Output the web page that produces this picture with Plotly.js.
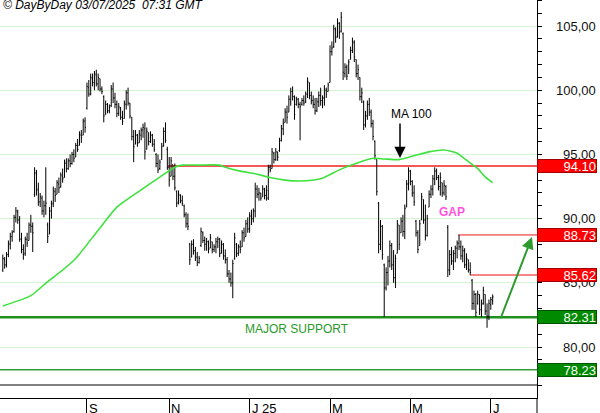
<!DOCTYPE html>
<html><head><meta charset="utf-8">
<script src="https://cdn.plot.ly/plotly-3.0.1.min.js"></script>
<style>html,body{margin:0;padding:0;background:#fff;} #chart{width:600px;height:413px;}</style>
</head><body><div id="chart"></div>
<script>
// ---------------- DATA (daily bars from 2024-07-01, trading days) ----------------
const firstDay = '2024-07-01';
const open = [
86.0,86.8,86.4,87.2,88.0,88.6,89.0,90.1,90.5,89.9,
88.4,87.6,87.3,88.4,88.3,89.5,89.4,91.9,93.5,92.3,
91.3,91.6,90.6,91.0,89.5,88.8,90.6,91.2,92.1,91.9,
92.7,92.5,93.3,93.2,94.3,93.9,94.5,94.3,95.0,94.8,
95.7,95.7,96.5,96.5,97.6,98.6,100.2,99.7,100.9,100.6,
101.2,100.5,100.9,100.1,99.5,98.1,98.9,98.4,98.8,100.1,
99.4,98.9,98.2,98.6,97.9,97.8,98.9,99.8,99.0,97.9,
96.4,95.8,96.5,95.9,96.5,96.9,97.0,95.4,96.7,96.0,
96.5,95.8,95.0,94.3,93.9,94.6,95.7,96.8,95.4,94.0,
93.3,94.2,93.3,92.1,91.3,91.8,91.4,91.0,90.3,89.6,
88.0,87.0,88.0,87.5,87.0,86.6,87.9,88.9,88.3,88.0,
88.2,87.7,88.2,87.6,87.8,88.2,88.4,87.3,88.0,87.1,
86.8,85.7,85.3,85.0,86.9,88.0,87.3,87.8,87.8,88.9,
88.6,89.6,89.2,90.2,90.0,90.6,92.3,91.9,92.0,91.7,
92.3,91.8,91.6,94.0,93.9,95.1,94.6,95.2,95.3,96.1,
97.0,97.5,98.3,98.3,99.3,99.9,99.5,98.9,99.3,98.9,
98.9,99.2,99.1,99.7,100.6,99.6,99.2,98.9,98.4,99.1,
99.6,99.2,99.4,100.0,99.9,100.6,103.0,103.4,104.7,104.2,
105.2,104.6,104.4,101.3,101.8,101.3,102.4,103.1,103.7,102.4,
101.3,101.0,99.5,99.1,97.3,98.0,98.9,98.3,97.4,96.0,
94.6,91.2,88.0,89.4,86.4,84.6,85.8,86.7,87.9,86.4,
85.4,87.3,89.5,88.9,89.8,89.0,90.9,92.7,93.7,92.9,
92.0,89.8,88.9,87.9,89.9,91.5,89.9,88.7,90.9,91.9,
92.3,93.1,93.7,93.2,92.5,92.8,92.0,92.5,89.3,86.0,
87.2,86.7,87.3,87.7,88.1,87.8,87.1,87.5,86.4,86.8,
86.0,85.2,83.4,84.1,83.4,84.1,82.9,83.4,84.1,82.8,
82.4,83.3,83.6];
const high = [
87.2,87.0,87.4,88.3,88.9,89.1,90.3,90.9,90.7,90.2,
88.9,88.0,88.6,88.9,89.7,90.3,89.7,94.0,93.8,92.8,
92.0,91.8,91.4,94.0,89.7,90.9,91.4,92.5,92.4,93.0,
93.2,93.6,93.9,94.6,94.7,94.7,95.0,95.2,95.4,95.9,
96.2,96.8,96.9,97.8,97.9,100.6,100.8,101.3,101.3,101.5,
101.6,101.3,100.9,100.3,99.6,99.2,99.0,98.9,100.4,100.6,
99.8,99.2,99.0,98.7,98.4,99.2,100.0,100.2,99.0,97.9,
96.9,96.9,96.6,96.9,97.1,97.4,97.5,97.1,96.7,96.8,
96.6,96.2,95.1,95.0,94.6,95.9,97.1,97.5,95.6,94.8,
94.8,94.2,94.3,92.2,92.2,91.9,91.8,91.1,90.5,90.4,
88.1,88.3,88.4,87.8,87.4,87.1,89.3,89.0,88.6,88.5,
88.3,88.8,88.2,88.0,88.5,88.6,88.5,88.3,88.1,87.6,
87.0,86.0,85.8,86.8,88.9,88.1,88.0,88.3,89.1,89.3,
89.9,90.1,90.5,90.7,90.8,92.8,92.6,92.4,92.0,92.6,
92.4,92.6,94.2,94.2,95.5,95.2,95.5,95.2,96.3,97.3,
97.8,98.6,98.8,99.6,100.2,100.3,99.6,99.5,99.4,99.1,
99.4,99.6,99.9,101.0,100.6,99.9,99.6,99.4,99.4,99.9,
100.2,99.6,100.4,100.2,100.6,103.5,103.8,105.1,104.9,105.6,
105.3,106.1,104.5,102.1,102.0,102.4,103.4,104.1,103.9,102.4,
102.0,101.0,100.2,99.2,98.4,99.2,99.4,98.5,97.7,96.1,
94.6,91.3,89.9,89.5,86.5,86.2,87.1,88.3,88.1,87.55,
87.2,89.9,89.5,90.1,90.3,91.1,93.0,94.0,93.8,93.0,
92.6,89.9,89.1,89.9,92.0,91.5,91.1,90.3,92.2,92.6,
93.4,94.0,93.9,93.4,93.6,92.8,93.0,92.6,89.5,87.55,
87.8,87.55,87.9,88.3,88.73,88.3,87.9,87.7,87.3,86.8,
86.6,85.3,84.4,84.2,84.4,84.1,83.7,84.7,84.1,83.4,
83.7,83.9,84.1];
const low = [
85.85,86.1,86.2,87.0,87.6,88.2,88.9,89.7,89.6,88.2,
87.3,86.8,87.1,87.8,88.3,88.9,87.4,91.7,91.8,91.0,
90.9,90.3,90.1,90.3,88.1,88.8,90.0,90.9,91.3,91.9,
92.0,92.4,92.8,93.2,93.6,93.8,94.0,94.2,94.4,94.8,
95.2,95.7,95.9,96.5,96.7,98.5,99.5,99.6,100.3,100.0,
100.3,100.0,99.9,99.7,97.5,98.1,98.2,98.2,98.7,99.0,
98.6,97.9,98.0,97.7,97.3,97.8,98.5,98.8,97.8,96.1,
94.4,95.8,95.6,95.9,96.1,96.3,94.6,95.4,95.7,95.9,
95.6,95.2,94.0,93.55,93.8,94.6,95.6,95.9,93.8,92.5,
93.3,93.0,92.2,90.9,91.1,91.2,91.0,90.1,89.3,89.1,
86.4,87.0,87.2,86.7,86.3,86.5,87.8,88.1,87.5,87.5,
87.3,87.7,87.3,87.4,87.3,87.7,87.0,87.3,86.8,86.5,
85.45,85.0,84.7,83.8,86.8,87.0,87.1,87.3,87.8,88.2,
88.6,88.9,88.9,89.5,89.7,90.1,91.6,91.4,91.4,91.7,
91.5,91.4,91.45,93.6,93.9,94.3,94.5,94.5,95.2,96.0,
96.5,97.5,97.4,98.3,98.8,99.2,97.7,98.8,98.6,96.1,
98.8,98.8,99.0,99.4,99.3,98.9,98.6,98.1,98.3,98.7,
98.8,98.6,98.8,99.4,99.9,100.6,102.7,103.3,103.7,104.1,
104.0,104.5,100.8,101.0,100.8,101.3,102.4,102.9,102.2,101.0,
100.8,99.2,99.0,96.9,97.1,97.7,98.0,97.1,96.1,94.6,
91.8,87.3,87.55,86.8,82.34,84.4,84.8,86.2,86.0,85.0,
84.6,87.3,87.55,88.9,88.6,88.4,90.9,92.2,92.6,91.7,
91.0,88.6,87.3,87.9,89.9,89.6,88.3,88.6,90.9,91.6,
91.8,92.6,93.0,92.2,91.8,91.7,91.8,91.45,85.45,85.6,
86.4,86.0,86.6,86.9,87.55,86.8,86.6,86.15,86.0,85.8,
85.62,82.9,82.9,82.34,83.3,82.5,82.34,83.3,82.5,81.5,
82.1,82.9,83.3];
const close = [
86.9,86.4,87.2,88.1,88.6,88.9,90.1,90.6,89.9,88.4,
87.6,87.2,88.4,88.1,89.5,89.4,88.9,93.6,92.2,91.3,
91.7,90.6,91.0,91.2,88.6,90.6,91.1,92.2,91.8,92.8,
92.4,93.4,93.1,94.4,93.9,94.5,94.3,95.0,94.7,95.7,
95.4,96.6,96.3,97.6,97.1,100.3,99.7,101.0,100.6,101.3,
100.5,101.0,100.1,99.9,98.0,98.9,98.4,98.7,100.1,99.4,
98.9,98.2,98.7,97.9,97.6,99.0,99.8,99.0,98.0,96.4,
95.6,96.5,95.9,96.6,96.9,97.1,95.2,96.8,96.0,96.5,
95.8,95.4,94.3,93.8,94.4,95.6,96.8,96.1,94.0,93.0,
94.5,93.3,92.4,91.2,91.9,91.4,91.2,90.3,89.6,89.4,
86.8,88.0,87.5,87.0,86.6,86.9,89.0,88.3,88.0,88.2,
87.6,88.5,87.6,87.8,88.2,88.4,87.3,88.0,87.1,86.8,
85.7,85.3,85.0,86.5,88.5,87.3,87.8,87.6,88.9,88.5,
89.6,89.2,90.2,90.0,90.6,92.3,91.9,92.0,91.6,92.3,
91.8,92.2,94.0,93.8,95.2,94.6,95.2,94.8,96.1,97.0,
97.4,98.3,97.9,99.3,99.9,99.5,98.1,99.3,98.9,98.7,
99.2,99.0,99.7,100.7,99.6,99.2,98.9,98.4,99.1,99.6,
99.2,99.4,100.1,99.7,100.4,103.0,103.3,104.8,104.1,105.3,
104.5,105.7,101.4,101.8,101.1,102.2,103.1,103.8,102.6,101.3,
101.6,99.5,99.8,97.3,98.0,98.9,98.3,97.4,96.4,94.9,
92.1,88.0,89.4,87.2,84.6,85.8,86.7,87.9,86.4,85.4,
86.9,89.6,88.0,89.8,89.0,90.8,92.7,93.7,92.9,92.0,
91.3,88.9,87.6,89.6,91.7,89.9,88.7,90.0,91.9,92.3,
93.1,93.7,93.2,92.5,93.2,92.0,92.6,91.7,86.0,87.2,
86.7,87.3,87.7,88.1,87.8,87.1,87.5,86.4,86.9,86.0,
85.8,83.4,84.1,82.7,84.1,82.9,83.3,84.4,82.8,82.4,
83.4,83.7,83.9];

// 100-day moving average at these bar indices
const maIdx = [0,15,24,32,39,51,61,73,84,92,96,105,116,119,127,135,143,151,159,170,180,188,198,204,212,220,228,236,243,248,254,258,262];
const maVal = [83.2,84.0,85.1,86.0,86.9,89.1,90.9,92.15,93.24,94.0,94.17,94.17,94.17,94.0,93.7,93.5,93.2,93.0,92.93,93.1,93.8,94.25,94.7,94.65,94.6,94.9,95.2,95.35,95.1,94.55,93.9,93.25,92.8];

// Levels
const resistLevels = [94.10, 88.73, 85.62];
const supportLevels = [82.31, 78.23];

// X tick labels
const tickDates = ['2024-09-02','2024-11-01','2025-01-01','2025-03-03','2025-05-01','2025-07-01'];
const tickLabels = ['S','N','J 25','M','M','J'];
// Y tick labels
const yTickVals = [80,85,90,95,100,105];

// ---------------- BUILD ----------------
const tradeDays = [];
(function(){
  let d = new Date(firstDay + 'T00:00:00Z');
  while (tradeDays.length < close.length) {
    const wd = d.getUTCDay();
    if (wd !== 0 && wd !== 6) tradeDays.push(d.toISOString().slice(0,10));
    d.setUTCDate(d.getUTCDate() + 1);
  }
})();

const FONT = 'Arial, "Liberation Sans", Helvetica, sans-serif';
const PW = 537, PH = 398;
const yMin = 76.03, yMax = 107.03;
const px = x => x / PW;              // pixel x -> paper
const py = y => 1 - y / PH;          // pixel y -> paper

const traces = [
  {
    type: 'ohlc', x: tradeDays, open: open, high: high, low: low, close: close,
    increasing: {line: {color: '#000', width: 1}},
    decreasing: {line: {color: '#000', width: 1}},
    tickwidth: 0.45, hoverinfo: 'skip', showlegend: false
  },
  {
    type: 'scatter', mode: 'lines',
    x: maIdx.map(i => tradeDays[i]), y: maVal,
    line: {color: '#3ee23e', width: 1.6, shape: 'spline', smoothing: 0.6},
    hoverinfo: 'skip', showlegend: false
  }
];

const shapes = [
  {type:'line', layer:'between', xref:'paper', yref:'y', x0:px(168), x1:1, y0:resistLevels[0], y1:resistLevels[0], line:{color:'#f25858', width:2}},
  {type:'line', layer:'between', xref:'paper', yref:'y', x0:px(458), x1:1, y0:resistLevels[1], y1:resistLevels[1], line:{color:'#e51a1a', width:1}},
  {type:'line', layer:'between', xref:'paper', yref:'y', x0:px(470), x1:1, y0:resistLevels[2], y1:resistLevels[2], line:{color:'#f25c5c', width:1.5}},
  {type:'line', layer:'between', xref:'paper', yref:'y', x0:0, x1:1, y0:supportLevels[0], y1:supportLevels[0], line:{color:'#1f8f1f', width:2.5}},
  {type:'line', layer:'between', xref:'paper', yref:'y', x0:0, x1:1, y0:supportLevels[1], y1:supportLevels[1], line:{color:'#3a9d3a', width:1.5}},
  {type:'line', xref:'paper', yref:'paper', x0:0, x1:1, y0:py(385), y1:py(385), line:{color:'#000', width:1}},
  {type:'line', xref:'paper', yref:'paper', x0:1, x1:1, y0:0, y1:py(413), line:{color:'#000', width:1}}
];

const annotations = [];
annotations.push({xref:'paper', yref:'paper', x:0, y:1, xanchor:'left', yanchor:'top', xshift:1, yshift:4,
  text:'<i>© DayByDay 03/07/2025\u00a0\u00a007:31 GMT</i>', showarrow:false, font:{family:FONT, size:12, color:'#000'}});
yTickVals.forEach(v => annotations.push({xref:'paper', yref:'y', x:1, y:v, xanchor:'right', yanchor:'middle', xshift:61,
  text: v.toFixed(2).replace('.', ','), showarrow:false, font:{family:FONT, size:13, color:'#111'}}));
resistLevels.forEach(v => annotations.push({xref:'paper', yref:'y', x:1, y:v, xanchor:'left', yanchor:'middle',
  text: v.toFixed(2), showarrow:false, width:58, height:12, align:'right', borderpad:0, borderwidth:1,
  bgcolor:'#ff0000', bordercolor:'#a00000', font:{family:FONT, size:13, color:'#fff'}}));
supportLevels.forEach(v => annotations.push({xref:'paper', yref:'y', x:1, y:v, xanchor:'left', yanchor:'middle',
  text: v.toFixed(2), showarrow:false, width:58, height:12, align:'right', borderpad:0, borderwidth:1,
  bgcolor:'#008a00', bordercolor:'#005500', font:{family:FONT, size:13, color:'#fff'}}));
tickDates.forEach((d, k) => annotations.push({xref:'x', yref:'paper', x:d, y:0, xanchor:'left', yanchor:'top', xshift:0, yshift:-1,
  text: tickLabels[k], showarrow:false, font:{family:FONT, size:13, color:'#000'}}));
annotations.push({xref:'paper', yref:'paper', x:px(411), y:py(114), xanchor:'center', yanchor:'middle', text:'MA 100', showarrow:false, font:{family:FONT, size:12, color:'#000'}});
annotations.push({xref:'paper', yref:'y', x:px(400), y:94.72, text:'', showarrow:true, ax:0, ay:-36, arrowhead:2, arrowsize:1.5, arrowwidth:1.5, arrowcolor:'#000', standoff:0});
annotations.push({xref:'paper', yref:'paper', x:px(452), y:py(212.5), xanchor:'center', yanchor:'middle', text:'<b>GAP</b>', showarrow:false, font:{family:FONT, size:12, color:'#ff55dd'}});
annotations.push({xref:'paper', yref:'paper', x:px(297), y:py(329), xanchor:'center', yanchor:'middle', text:'MAJOR SUPPORT', showarrow:false, font:{family:FONT, size:12, color:'#2a9a2a'}});
annotations.push({xref:'paper', yref:'y', x:px(532), y:88.57, text:'', showarrow:true, ax:-32, ay:83, arrowhead:2, arrowsize:1.2, arrowwidth:2, arrowcolor:'#2e9a2e', standoff:0});

const layout = {
  width: 600, height: 413,
  margin: {l:0, r:63, t:0, b:15, pad:0},
  paper_bgcolor: '#fff', plot_bgcolor: '#fff',
  showlegend: false,
  font: {family: FONT, size: 13, color: '#000'},
  xaxis: {
    type: 'date', range: ['2024-06-27 12:00', '2025-08-04 17:00'],
    rangebreaks: [{bounds: ['sat', 'mon']}],
    rangeslider: {visible: false},
    showgrid: false, zeroline: false, showline: true, linecolor: '#000', linewidth: 1,
    ticks: 'outside', ticklen: 15, tickcolor: '#000', tickwidth: 1,
    tickmode: 'array', tickvals: tickDates, showticklabels: false, fixedrange: true
  },
  yaxis: {
    side: 'right', range: [yMin, yMax],
    showgrid: true, gridcolor: '#d4f4d4', gridwidth: 1,
    tickmode: 'linear', tick0: 0, dtick: 5,
    ticks: 'outside', ticklen: 4, tickcolor: '#000', tickwidth: 1,
    showticklabels: false, showline: true, linecolor: '#000', linewidth: 1, zeroline: false,
    minor: {dtick: 1, ticks: 'outside', ticklen: 4, tickcolor: '#000', showgrid: false},
    fixedrange: true
  },
  shapes: shapes,
  annotations: annotations
};

Plotly.newPlot('chart', traces, layout, {staticPlot: true, displayModeBar: false});
</script></body></html>
